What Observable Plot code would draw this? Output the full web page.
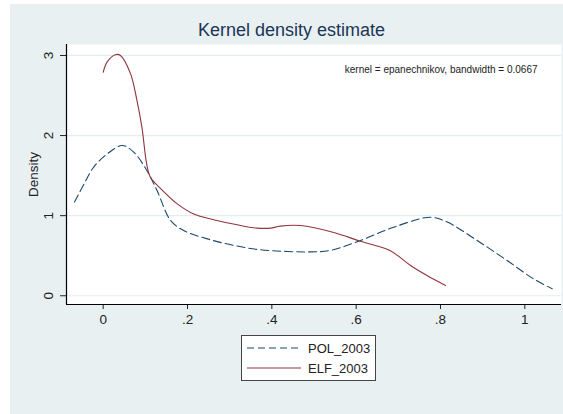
<!DOCTYPE html>
<html>
<head>
<meta charset="utf-8">
<script src="https://cdn.jsdelivr.net/npm/d3@7"></script>
<script src="https://cdn.jsdelivr.net/npm/@observablehq/plot@0.6"></script>
<style>
  html, body { margin: 0; padding: 0; background: #ffffff; }
  body { font-family: "Liberation Sans", Arial, sans-serif; }
  #wrap { position: relative; width: 563px; height: 414px; overflow: hidden; background: #ffffff; }
  #bg { position: absolute; left: 10px; top: 4px; right: 0; bottom: 0; background: #e8f0f2; }
  #title { position: absolute; left: 10px; width: 563px; top: 20px; text-align: center;
           font-size: 18px; color: #1c3557; line-height: 20px; }
  #chart { position: absolute; left: 0; top: 40px; }
  #legend { position: absolute; left: 241px; top: 335px; width: 133px; height: 44px;
            background: #ffffff; border: 1px solid #444; }
  #legend svg { display: block; }
</style>
</head>
<body>
<div id="wrap">
  <div id="bg"></div>
  <div id="title">Kernel density estimate</div>
  <div id="chart"></div>
  <div id="legend"></div>
</div>
<script>
// ---- data ----
const seriesNames = ["POL_2003", "ELF_2003"];
const polX = [-0.068, -0.045, -0.022, 0.0095, 0.045, 0.073, 0.104, 0.128, 0.16, 0.191, 0.247, 0.31, 0.373, 0.436, 0.49, 0.539, 0.61, 0.689, 0.776, 0.816, 0.887, 0.958, 1.021, 1.065];
const polY = [1.17, 1.40, 1.61, 1.77, 1.876, 1.79, 1.56, 1.31, 0.94, 0.815, 0.71, 0.628, 0.574, 0.553, 0.548, 0.566, 0.69, 0.856, 0.98, 0.92, 0.69, 0.44, 0.21, 0.087];
const elfX = [0.0, 0.0095, 0.029, 0.041, 0.065, 0.08, 0.092, 0.103, 0.112, 0.136, 0.175, 0.215, 0.262, 0.318, 0.365, 0.397, 0.42, 0.468, 0.547, 0.61, 0.68, 0.729, 0.768, 0.812];
const elfY = [2.79, 2.92, 3.01, 3.0, 2.77, 2.44, 2.10, 1.65, 1.48, 1.34, 1.15, 1.02, 0.95, 0.886, 0.845, 0.845, 0.87, 0.877, 0.79, 0.68, 0.565, 0.378, 0.253, 0.129];
const xTicks = [0, 0.2, 0.4, 0.6, 0.8, 1];
const xTickLabels = ["0", ".2", ".4", ".6", ".8", "1"];
const yTicks = [0, 1, 2, 3];
const yTickLabels = ["0", "1", "2", "3"];
const noteText = "kernel = epanechnikov, bandwidth = 0.0667";
const yLabel = "Density";

const pol = polX.map((x, i) => ({x, y: polY[i]}));
const elf = elfX.map((x, i) => ({x, y: elfY[i]}));
const xDomain = [-0.087, 1.087];
const yDomain = [-0.109, 3.137];
const FONT = '"Liberation Sans", Arial, sans-serif';
const POL_COLOR = "#1a476f";
const ELF_COLOR = "#90353b";

const chart = Plot.plot({
  width: 563,
  height: 300,
  marginLeft: 66,
  marginRight: 2,
  marginTop: 4,
  marginBottom: 36,
  style: {background: "transparent", fontFamily: FONT, fontSize: "13.5px", color: "#222"},
  x: {domain: xDomain, axis: null},
  y: {domain: yDomain, axis: null},
  marks: [
    Plot.frame({fill: "#ffffff", stroke: null}),
    Plot.gridY(yTicks, {stroke: "#e4edef", strokeOpacity: 1, strokeWidth: 1.2}),
    Plot.axisX(xTicks, {tickSize: 5, tickPadding: 5, tickFormat: (d, i) => xTickLabels[i], stroke: "#222", fill: "#222", fontSize: 13.5, label: null}),
    Plot.axisY(yTicks, {tickSize: 6, tickFormat: () => "", stroke: "#222", label: null}),
    Plot.text(yTicks, {y: d => d, text: (d, i) => yTickLabels[i], frameAnchor: "left", dx: -18, rotate: -90, textAnchor: "middle", fontSize: 13.5, fill: "#222"}),
    Plot.text([yLabel], {frameAnchor: "left", dx: -33, rotate: -90, textAnchor: "middle", fontSize: 13.5, fill: "#222"}),
    Plot.ruleX([xDomain[0]], {stroke: "#000", strokeWidth: 1.2}),
    Plot.ruleY([yDomain[0]], {stroke: "#000", strokeWidth: 1.2}),
    Plot.line(pol, {x: "x", y: "y", stroke: POL_COLOR, strokeWidth: 1.1, strokeDasharray: "8,4", curve: "catmull-rom"}),
    Plot.line(elf, {x: "x", y: "y", stroke: ELF_COLOR, strokeWidth: 1.1, curve: "catmull-rom"}),
    Plot.text([noteText], {frameAnchor: "top-right", dx: -24, dy: 25, lineAnchor: "middle", textAnchor: "end", fontSize: 10, fill: "#222"})
  ]
});
document.getElementById("chart").appendChild(chart);

// legend
const legend = d3.select("#legend").append("svg").attr("width", 133).attr("height", 44);
const rows = [
  {name: seriesNames[0], color: POL_COLOR, dash: "7,4", y: 12},
  {name: seriesNames[1], color: ELF_COLOR, dash: null, y: 32}
];
rows.forEach(r => {
  legend.append("line").attr("x1", 5).attr("x2", 59).attr("y1", r.y).attr("y2", r.y)
    .attr("stroke", r.color).attr("stroke-width", 1.1).attr("stroke-dasharray", r.dash);
  legend.append("text").attr("x", 66).attr("y", r.y).attr("dy", "0.36em")
    .attr("font-family", FONT).attr("font-size", 13).attr("fill", "#222").text(r.name);
});
</script>
</body>
</html>
